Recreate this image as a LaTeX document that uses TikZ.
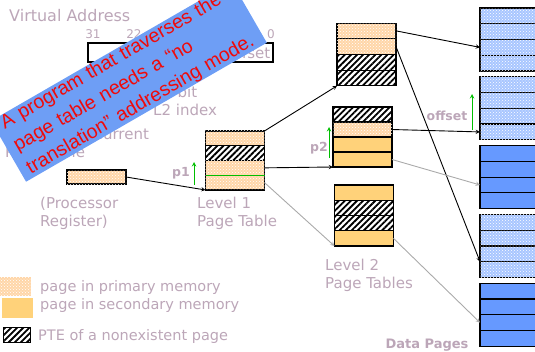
\documentclass[tikz,border=0pt]{standalone}
\usepackage{fontspec}
\setmainfont{DejaVu Sans}
\newfontfamily\notefont{Liberation Sans}
\usetikzlibrary{patterns,patterns.meta,positioning}

\definecolor{txtgray}{RGB}{188,166,184}
\definecolor{orglight}{RGB}{255,214,168}
\definecolor{orgdark}{RGB}{255,210,122}
\definecolor{bluelight}{RGB}{168,198,255}
\definecolor{bluedark}{RGB}{102,153,255}
\definecolor{noteblue}{RGB}{110,158,245}
\definecolor{notered}{RGB}{240,10,10}
\definecolor{linkgray}{RGB}{170,170,170}
\definecolor{ptrgreen}{RGB}{0,190,0}

\tikzset{
  txt/.style={text=txtgray, font=\fontsize{15}{18}\selectfont, align=left, inner sep=0pt},
  ptr/.style={text=txtgray, font=\fontsize{12.5}{15}\selectfont\bfseries, inner sep=0pt},
  pte/.style={draw=black, line width=1.2pt, minimum width=59pt, minimum height=15.5pt, inner sep=0pt, outer sep=0pt},
  inmem/.style={pte, fill=orglight, postaction={pattern=crosshatch dots, pattern color=white}},
  ondisk/.style={pte, fill=orgdark},
  nopage/.style={pte, preaction={fill=white}, pattern={Lines[angle=45,distance=4.3pt,line width=1.8pt]}, pattern color=black},
  dpin/.style={pte, minimum width=65pt, minimum height=15.75pt, fill=bluelight, postaction={pattern=crosshatch dots, pattern color=white}},
  dpout/.style={pte, minimum width=65pt, minimum height=15.75pt, fill=bluedark},
  link/.style={-stealth, line width=0.9pt},
  slink/.style={link, draw=linkgray},
  idx/.style={-stealth, draw=ptrgreen, line width=1pt},
  note/.style={fill=noteblue, text=notered, font=\notefont\fontsize{19.5}{26}\selectfont, text width=262pt, align=left, inner xsep=8pt, inner ysep=0pt}
}

\begin{document}
\begin{tikzpicture}[x=1pt,y=-1pt]
  \useasboundingbox (0,0) rectangle (535,351);
  \clip (0,0) rectangle (535,351);

  % virtual address
  \node[txt, font=\fontsize{16}{19}\selectfont, anchor=west] (va) at (9,16) {Virtual Address};
  \node[txt, font=\fontsize{12}{14}\selectfont] (b31) at (93,34.5) {31};
  \node[txt, font=\fontsize{12}{14}\selectfont] (b22) at (134,34.5) {22};
  \node[txt, font=\fontsize{12}{14}\selectfont] (b0) at (271,34.5) {0};
  \node[draw=black, line width=1.2pt, minimum width=185pt, minimum height=19pt] (vbox) at (180.5,52.5) {};
  \node[txt] (voff) at (249,52.5) {offset};
  \node[txt, anchor=west] (l2idx) at (153,101) {10-bit\\L2 index};
  \node[txt, anchor=west] (root) at (5,144) {Root of the Current\\Page Table};

  % processor register
  \node[inmem, minimum height=14pt] (reg) at (96.5,177) {};
  \node[txt, anchor=west] (regtxt) at (40,213.5) {(Processor\\Register)};

  % level 1 page table
  \foreach \s [count=\r] in {inmem,nopage,inmem,inmem}
    \node[\s, minimum height=14.75pt] (l1-\r) at (235,123.6+14.75*\r) {};
  \draw[ptrgreen, line width=1.2pt] (l1-3.south west) -- (l1-3.south east);
  \node[txt, anchor=west] (l1txt) at (197,213.5) {Level 1\\Page Table};

  % level 2 page tables
  \foreach \s [count=\r] in {inmem,inmem,nopage,nopage}
    \node[\s] (l2a-\r) at (366.5,15.1+15.75*\r) {};
  \foreach \s [count=\r] in {nopage,inmem,ondisk,ondisk}
    \node[\s, minimum height=15pt] (l2b-\r) at (362.5,99.5+15*\r) {};
  \foreach \s [count=\r] in {ondisk,nopage,nopage,ondisk}
    \node[\s, minimum height=15.25pt] (l2c-\r) at (364,177.4+15.25*\r) {};
  \node[txt, anchor=west] (l2txt) at (325,275) {Level 2\\Page Tables};

  % data pages
  \foreach \p/\s in {1/dpin,2/dpin,3/dpout,4/dpin,5/dpout}
    \foreach \r in {1,...,4}
      \node[\s] (d\p-\r) at (512.5,-60.8+68.8*\p+15.75*\r-7.875) {};
  \node[ptr, font=\fontsize{13}{15}\selectfont\bfseries] (dtxt) at (427,345) {Data Pages};

  % index arrows
  \coordinate (p1s) at (194,185);
  \coordinate (p1e) at (194,162);
  \coordinate (p2s) at (329,158);
  \coordinate (p2e) at (329,127);
  \coordinate (ofs) at (472,130);
  \coordinate (ofe) at (472,94);
  \draw[idx] (p1s) -- (p1e);
  \draw[idx] (p2s) -- (p2e);
  \draw[idx] (ofs) -- (ofe);
  \node[ptr] (p1) at (181,173) {p1};
  \node[ptr] (p2) at (319,148) {p2};
  \node[ptr] (off) at (447,116) {offset};

  % links
  \draw[link] (reg.east) -- (l1-4.south west);
  \draw[link] (l1-1.north east) -- (l2a-4.south west);
  \draw[link] (l1-3.east) -- (l2b-4.south west);
  \draw[slink] (l1-4.east) -- (l2c-4.south west);
  \draw[link] (l2a-1.east) -- (d1-3.west);
  \draw[link] (l2a-2.east) -- (d4-3.south west);
  \draw[link] (l2b-2.east) -- (d2-4.west);
  \draw[slink] (l2b-4.east) -- (d3-3.west);
  \draw[slink] (l2c-4.east) -- (d5-3.west);

  % legend
  \node[inmem, draw=none, minimum width=31pt, minimum height=19pt] (lgin) at (15.5,286.5) {};
  \node[ondisk, draw=none, minimum width=31pt, minimum height=20pt] (lgout) at (17.5,308) {};
  \node[nopage, minimum width=27pt, minimum height=15pt] (lgno) at (17,335) {};
  \node[txt, font=\fontsize{14.5}{18}\selectfont, anchor=west] (lgintxt) at (40,287) {page in primary memory};
  \node[txt, font=\fontsize{14.5}{18}\selectfont, anchor=west] (lgouttxt) at (40,305) {page in secondary memory};
  \node[txt, font=\fontsize{14.5}{18}\selectfont, anchor=west] (lgnotxt) at (38,336) {PTE of a nonexistent page};

  % overlay note
  \node[note, anchor=south west, rotate=30] (memo) at (26,182) {A program that traverses the\\page table needs a “no\\translation” addressing mode.};
\end{tikzpicture}
\end{document}
